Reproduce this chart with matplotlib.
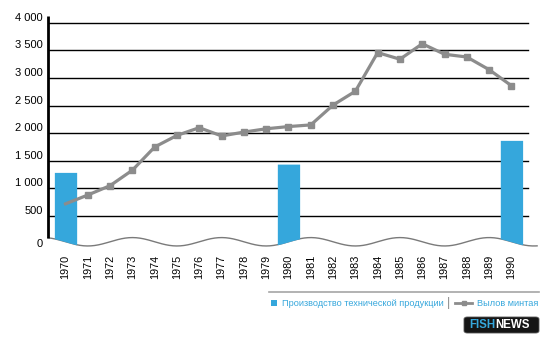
import numpy as np
import matplotlib
matplotlib.use("Agg")
import matplotlib.pyplot as plt
from matplotlib.lines import Line2D
from matplotlib.patches import Rectangle, FancyBboxPatch

# --- data ---
years = np.arange(1970, 1991)
catch = [720, 880, 1050, 1330, 1750, 1960, 2100, 1950, 2020, 2080,
         2120, 2150, 2510, 2760, 3460, 3340, 3620, 3430, 3380, 3150, 2860]
prod_years = [1970, 1980, 1990]
prod_values = [1290, 1440, 1870]
ytick_vals = [500, 1000, 1500, 2000, 2500, 3000, 3500, 4000]
ytick_labels = ["500", "1 000", "1 500", "2 000", "2 500", "3 000", "3 500", "4 000"]
legend_bar = "Производство технической продукции"
legend_line = "Вылов минтая"

BLUE = "#35a7dc"
GREY = "#8c8c8c"
W, H = 550, 344

plt.rcParams["font.family"] = ["Liberation Sans", "DejaVu Sans"]

fig = plt.figure(figsize=(W / 100, H / 100), dpi=100)
# axes box in pixels: x 48..540, y 16..250
ax = fig.add_axes([48 / W, (H - 250) / H, (540 - 48) / W, (250 - 16) / H])
x0, x1 = 1969.215, 1991.28
ax.set_xlim(x0, x1)
ax.set_ylim(-116, 4123)
for s in ax.spines.values():
    s.set_visible(False)


def wave(x):
    # wavy "broken" baseline under the plot
    return 33 + 76 * np.cos(2 * np.pi * (x - 1973) / 4)


# gridlines
grid_end = (528 - 48) / 492
for v in ytick_vals:
    ax.axhline(v, xmin=0, xmax=grid_end, color="black", lw=1.0, zorder=1)

# wavy baseline
xs = np.linspace(x0, 1991.15, 400)
ax.plot(xs, wave(xs), color="#7a7a7a", lw=1.0, zorder=2, clip_on=False)

# left axis line
ax.plot([x0, x0], [wave(x0), 4123], color="black", lw=2.0, zorder=3,
        clip_on=False, solid_capstyle="butt")

# bars, bottom follows the wave
for yr, val in zip(prod_years, prod_values):
    bx = np.linspace(yr - 0.5, yr + 0.5, 30)
    ax.fill_between(bx, wave(bx), val, color=BLUE, lw=0, zorder=3)

# catch line
ax.plot(years, catch, color=GREY, lw=2.3, marker="s", ms=4.5,
        markevery=list(range(1, len(years))), zorder=4)

# y labels
for v, lab in zip(ytick_vals, ytick_labels):
    ax.annotate(lab, xy=(0, v), xycoords=("axes fraction", "data"),
                xytext=(-3.6, 1.4), textcoords="offset points",
                ha="right", va="baseline", fontsize=8, color="black")
ax.annotate("0", xy=(0, 0), xycoords=("axes fraction", "data"),
            xytext=(-3.6, 0), textcoords="offset points",
            ha="right", va="center", fontsize=8, color="black")

ax.set_yticks([])
ax.set_xticks(years)
ax.set_xticklabels([str(y) for y in years], rotation=90, fontsize=7.8)
ax.tick_params(axis="x", length=0, pad=3.2)

# legend
fig.add_artist(Line2D([269 / W, 539 / W], [1 - 291.6 / H] * 2,
                      color="#a5a5a5", lw=1.2))
fig.add_artist(Rectangle((270.5 / W, 1 - 305.7 / H), 6 / W, 6 / H,
                         color=BLUE, lw=0))
fig.text(282 / W, 1 - 303.3 / H, legend_bar, fontsize=6.6, color=BLUE,
         va="center", ha="left")
fig.text(449 / W, 1 - 303.3 / H, "|", fontsize=9, color="#888888",
         va="center", ha="center")
fig.add_artist(Line2D([455 / W, 463.5 / W, 472 / W], [1 - 303.3 / H] * 3,
                      color=GREY, lw=2.0, marker="s", ms=3.5,
                      markevery=[1]))
fig.text(538 / W, 1 - 303.3 / H, legend_line, fontsize=6.6, color=BLUE,
         va="center", ha="right")

# logo
fig.add_artist(FancyBboxPatch((464 / W, 1 - 333 / H), 75 / W, 16 / H,
                              boxstyle="round,pad=0,rounding_size=0.006",
                              transform=fig.transFigure,
                              fc="#151515", ec="#555555", lw=0.6))
fig.text(469 / W, 1 - 324.5 / H, "FISH", fontsize=8.3, weight="bold",
         color=BLUE, va="center", ha="left")
fig.text(495.5 / W, 1 - 324.5 / H, "NEWS", fontsize=8.3, weight="bold",
         color="white", va="center", ha="left")

fig.savefig("out.png", dpi=100)
